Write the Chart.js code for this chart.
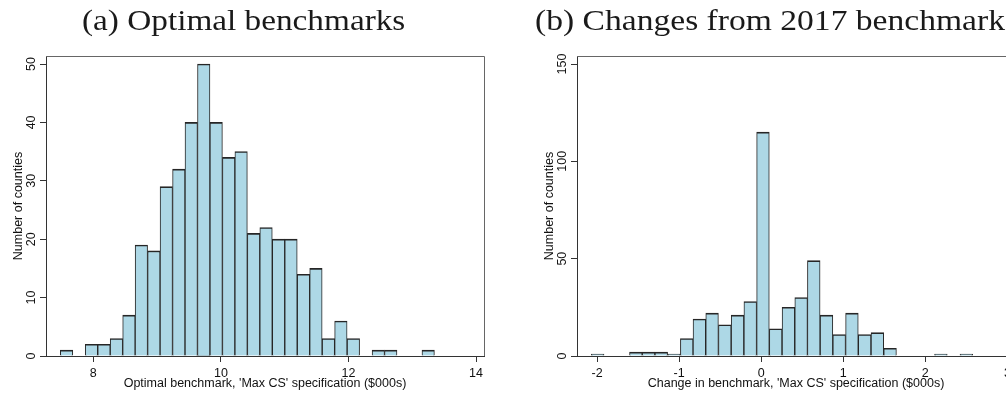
<!DOCTYPE html>
<html><head><meta charset="utf-8">
<script src="https://cdn.jsdelivr.net/npm/chart.js@4.4.1/dist/chart.umd.min.js"></script>
<style>
html,body{margin:0;padding:0;background:#fff;overflow:hidden;}
body{width:1006px;height:393px;position:relative;}
.t{position:absolute;font-family:"Liberation Serif",serif;font-size:30px;line-height:1;white-space:nowrap;color:#1a1a1a;transform-origin:0 0;}
#wrapA{position:absolute;left:0;top:0;width:500px;height:393px;}
#wrapB{position:absolute;left:531px;top:0;width:500px;height:393px;}
</style></head><body>
<div id="wrapA"><canvas id="cA" width="500" height="393"></canvas></div>
<div id="wrapB"><canvas id="cB" width="500" height="393"></canvas></div>
<div class="t" id="tA"></div>
<div class="t" id="tB"></div>
<script>
// ---- data ----
const titleA = "(a) Optimal benchmarks";
const titleB = "(b) Changes from 2017 benchmark";
const yTitle = "Number of counties";
const xTitleA = "Optimal benchmark, 'Max CS' specification ($000s)";
const xTitleB = "Change in benchmark, 'Max CS' specification ($000s)";

const binCentersA = [7.580, 7.776, 7.971, 8.167, 8.362, 8.558, 8.753, 8.949, 9.144, 9.340,
                     9.535, 9.731, 9.926, 10.122, 10.317, 10.513, 10.708, 10.904, 11.099, 11.295,
                     11.490, 11.686, 11.881, 12.077, 12.272, 12.468, 12.663, 12.859, 13.054, 13.250];
const countsA = [1, 0, 2, 2, 3, 7, 19, 18, 29, 32,
                 40, 50, 40, 34, 35, 21, 22, 20, 20, 14,
                 15, 3, 6, 3, 0, 1, 1, 0, 0, 1];

const binCentersB = [-1.992, -1.837, -1.682, -1.527, -1.372, -1.217, -1.062, -0.907, -0.753, -0.598,
                     -0.443, -0.288, -0.133, 0.022, 0.177, 0.332, 0.487, 0.641, 0.796, 0.951,
                     1.106, 1.261, 1.416, 1.571, 1.726, 1.881, 2.035, 2.190, 2.345, 2.500];
const countsB = [1, 0, 0, 2, 2, 2, 1, 9, 19, 22,
                 16, 21, 28, 115, 14, 25, 30, 49, 21, 11,
                 22, 11, 12, 4, 0, 0, 0, 1, 0, 1];

const xTicksA = [8, 10, 12, 14];
const yTicksA = [0, 10, 20, 30, 40, 50];
const xTicksB = [-2, -1, 0, 1, 2, 3];
const yTicksB = [0, 50, 100, 150];

// ---- styling ----
const SANS = "'Liberation Sans', Arial, sans-serif";
const FS = 12.5;
const AXIS = '#333';

const yLabelPlugin = {
  id: 'yLabels',
  afterDraw(chart) {
    const s = chart.scales.y, c = chart.ctx;
    c.save();
    c.fillStyle = '#111';
    c.font = FS + 'px ' + SANS;
    c.textAlign = 'center';
    c.textBaseline = 'middle';
    s.ticks.forEach(t => {
      const y = s.getPixelForValue(t.value);
      c.save();
      c.translate(32, y);
      c.rotate(-Math.PI / 2);
      c.fillText(String(t.value), 0, 0);
      c.restore();
    });
    c.restore();
  }
};
const framePlugin = {
  id: 'frame',
  afterDraw(chart) {
    const a = chart.chartArea, c = chart.ctx;
    c.save();
    c.strokeStyle = '#666';
    c.lineWidth = 1;
    c.beginPath();
    c.moveTo(a.left, a.top + 0.5);
    c.lineTo(a.right + 0.5, a.top + 0.5);
    c.lineTo(a.right + 0.5, a.bottom);
    c.stroke();
    c.restore();
  }
};

function makeChart(id, centers, counts, xMin, xMax, yMax, xTicks, yTicks, xTitle) {
  return new Chart(document.getElementById(id), {
    type: 'bar',
    data: {
      datasets: [{
        data: centers.map((c, i) => ({ x: c, y: counts[i] })),
        backgroundColor: '#ADD8E6',
        borderColor: '#262626',
        borderWidth: { top: 1.6, left: 1, right: 1, bottom: 0 },
        borderSkipped: false,
        barPercentage: 1,
        categoryPercentage: 1
      }]
    },
    options: {
      responsive: false, animation: false, devicePixelRatio: 1,
      layout: { padding: { left: 0, right: 16, top: 56, bottom: 0 } },
      plugins: { legend: { display: false }, tooltip: { enabled: false } },
      scales: {
        x: {
          type: 'linear', min: xMin, max: xMax, offset: false,
          afterBuildTicks: s => { s.ticks = xTicks.map(v => ({ value: v })); },
          afterFit: s => { s.height = 37; },
          grid: { display: true, drawOnChartArea: false, drawTicks: true, tickLength: 6, color: AXIS, offset: false },
          border: { display: true, color: AXIS, width: 1 },
          ticks: { font: { family: SANS, size: FS }, color: '#111', padding: 4, maxRotation: 0, minRotation: 0, autoSkip: false },
          title: { display: true, text: xTitle, font: { family: SANS, size: FS }, color: '#111', padding: { top: 0, bottom: 1.5 } }
        },
        y: {
          type: 'linear', min: 0, max: yMax,
          afterBuildTicks: s => { s.ticks = yTicks.map(v => ({ value: v })); },
          afterFit: s => { s.width = 46; },
          grid: { display: true, drawOnChartArea: false, drawTicks: true, tickLength: 6, color: AXIS },
          border: { display: true, color: AXIS, width: 1 },
          ticks: { display: false },
          title: { display: true, text: yTitle, font: { family: SANS, size: FS }, color: '#111', padding: { top: 11, bottom: 0 } }
        }
      }
    },
    plugins: [yLabelPlugin, framePlugin]
  });
}

makeChart('cA', binCentersA, countsA, 7.258, 14.125, 51.37, xTicksA, yTicksA, xTitleA);
makeChart('cB', binCentersB, countsB, -2.244, 3.093, 154.11, xTicksB, yTicksB, xTitleB);

// titles
function placeTitle(id, text, left, width, top) {
  const el = document.getElementById(id);
  el.textContent = text;
  el.style.left = left + 'px';
  el.style.top = top + 'px';
  const w = el.getBoundingClientRect().width;
  el.style.transform = 'scaleX(' + (width / w) + ')';
}
placeTitle('tA', titleA, 81.7, 323.3, 4.5);
placeTitle('tB', titleB, 535, 470, 4.5);
</script>
</body></html>
